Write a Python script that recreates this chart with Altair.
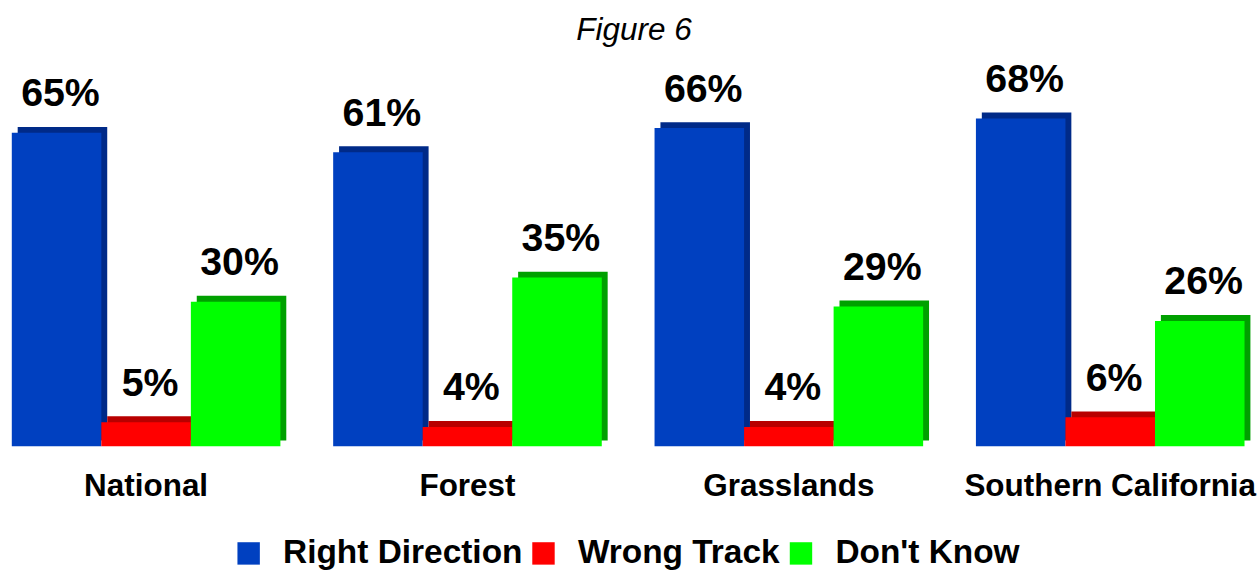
import altair as alt
import pandas as pd

groups = ["National", "Forest", "Grasslands", "Southern California"]
series = ["Right Direction", "Wrong Track", "Don't Know"]
right_direction = [65, 61, 66, 68]
wrong_track = [5, 4, 4, 6]
dont_know = [30, 35, 29, 26]
front_colors = ["#0040C0", "#FF0000", "#00FF00"]
dark_colors = ["#002A88", "#B80000", "#00A000"]

rows = []
for i, g in enumerate(groups):
    for s, vals, dc in zip(series, [right_direction, wrong_track, dont_know], dark_colors):
        rows.append({"group": g, "series": s, "value": vals[i],
                     "label": f"{vals[i]}%", "dark": dc})
df = pd.DataFrame(rows)

FONT = "Liberation Sans"

x = alt.X("series:N", sort=series, axis=None,
          scale=alt.Scale(paddingInner=0, paddingOuter=0))
y = alt.Y("value:Q", axis=None, scale=alt.Scale(domain=[0, 75]))

shadow = alt.Chart().mark_bar(xOffset=6, x2Offset=6, yOffset=-6, y2Offset=-6).encode(
    x=x, y=y, fill=alt.Fill("dark:N", scale=None)
)
front = alt.Chart().mark_bar().encode(
    x=x, y=y,
    color=alt.Color("series:N", sort=series,
                    scale=alt.Scale(domain=series, range=front_colors),
                    legend=alt.Legend(title=None, orient="none", direction="horizontal",
                                      legendX=224, legendY=460,
                                      symbolType="square", symbolSize=520,
                                      symbolStrokeWidth=0, symbolOpacity=1,
                                      labelFont=FONT, labelFontSize=34,
                                      labelFontWeight="bold", labelColor="black",
                                      labelOffset=18, columnPadding=4,
                                      labelLimit=400))
)
labels = alt.Chart().mark_text(font=FONT, fontSize=40, fontWeight="bold",
                               color="black", baseline="alphabetic",
                               dx=4, dy=-27).encode(
    x=x, y=y, text="label:N"
)

chart = alt.layer(shadow, front, labels, data=df).properties(
    width=273.3, height=368
).facet(
    column=alt.Column("group:N", sort=groups, title=None,
                      header=alt.Header(labelOrient="bottom", labelFont=FONT,
                                        labelFontSize=32, labelFontWeight="bold",
                                        labelColor="black", labelPadding=26)),
    spacing=47,
).properties(
    title=alt.Title("Figure 6", font=FONT, fontSize=32, fontStyle="italic",
                    fontWeight="normal", color="black", anchor="middle", offset=14),
    padding={"left": 12, "top": 9, "right": 0, "bottom": 10},
).configure_view(stroke=None)

chart.save("out.html", embed_options={"renderer": "svg", "actions": False})
